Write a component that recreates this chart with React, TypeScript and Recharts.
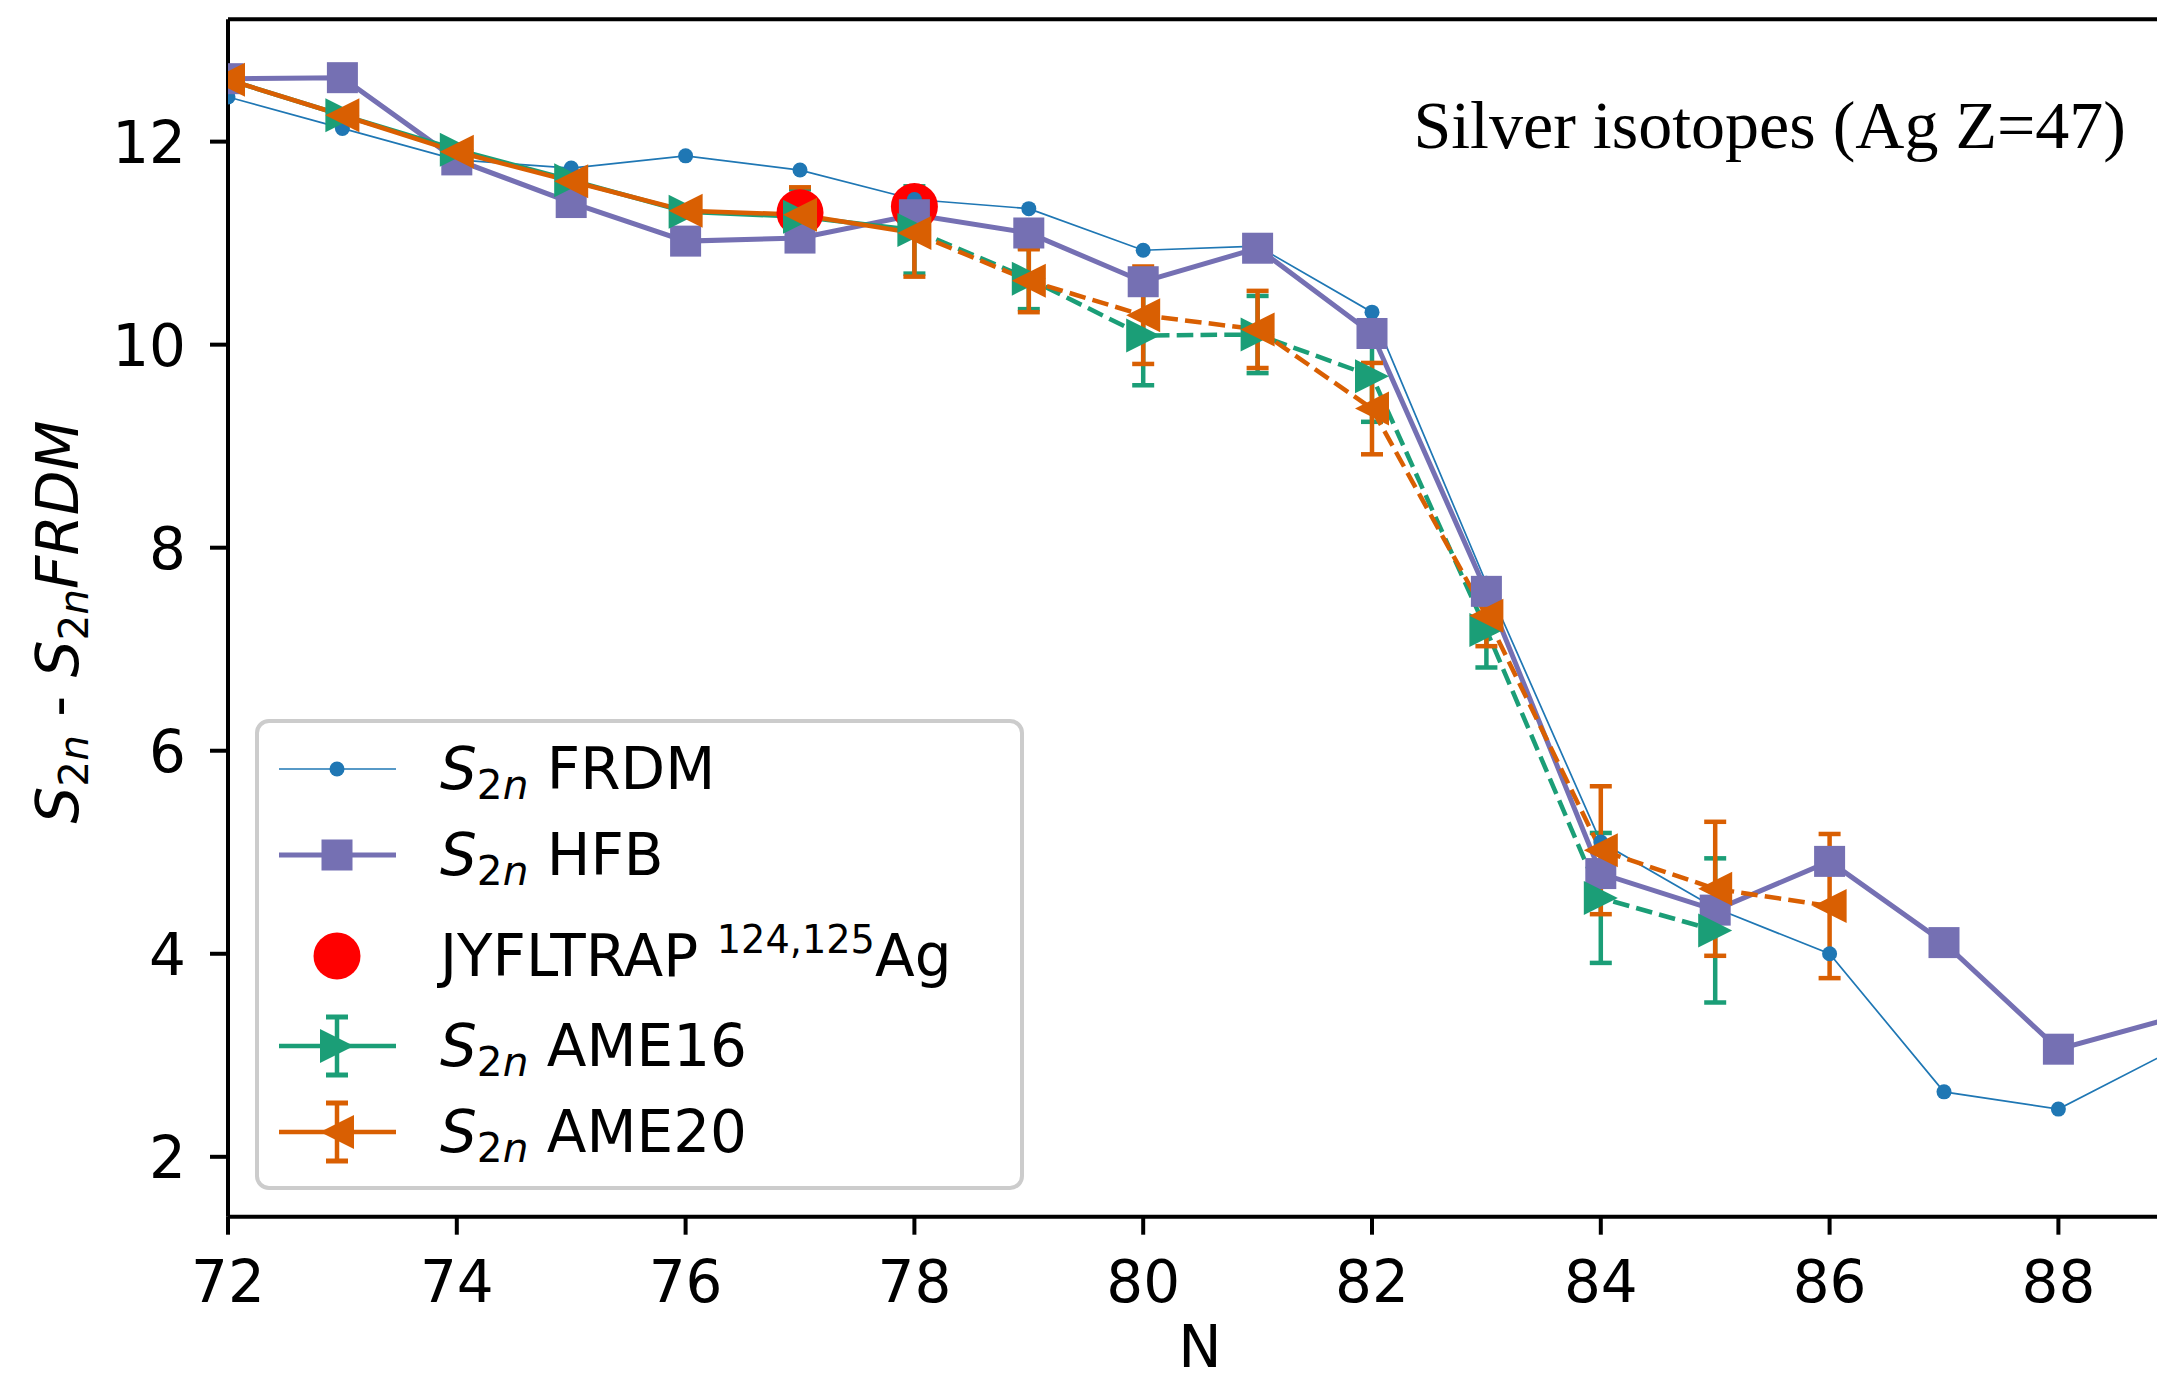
import React from 'react';
import { LineChart, Line, XAxis, YAxis, ErrorBar, ReferenceLine, Legend, Customized } from 'recharts';

// ---------------- data ----------------
const N = [72, 73, 74, 75, 76, 77, 78, 79, 80, 81, 82, 83, 84, 85, 86, 87, 88, 89];
const FRDM = [12.44, 12.13, 11.82, 11.74, 11.86, 11.72, 11.43, 11.34, 10.93, 10.97, 10.32, 7.65, 5.1, 4.45, 4.0, 2.64, 2.47, 3.05];
const HFB = [12.62, 12.63, 11.82, 11.4, 11.02, 11.05, 11.28, 11.1, 10.62, 10.95, 10.11, 7.57, 4.79, 4.43, 4.91, 4.11, 3.06, 3.37];

const JYFL_N = [77, 78];
const JYFL = [11.3, 11.36];

const AME16_N = [72, 73, 74, 75, 76, 77, 78, 79, 80, 81, 82, 83, 84, 85];
const AME16 = [12.61, 12.26, 11.92, 11.62, 11.31, 11.26, 11.13, 10.65, 10.09, 10.1, 9.69, 7.19, 4.55, 4.23];
const AME16_ERR = [null, null, null, null, null, 0.27, 0.43, 0.3, 0.49, 0.38, 0.45, 0.37, 0.64, 0.71];

const AME20_N = [72, 73, 74, 75, 76, 77, 78, 79, 80, 81, 82, 83, 84, 85, 86];
const AME20 = [12.61, 12.26, 11.9, 11.61, 11.32, 11.28, 11.1, 10.63, 10.29, 10.15, 9.37, 7.33, 5.02, 4.64, 4.47];
const AME20_ERR = [null, null, null, null, null, 0.27, 0.43, 0.31, 0.48, 0.38, 0.45, 0.3, 0.63, 0.66, 0.71];

const SPLIT_N = 78; // solid up to here, dashed afterwards
const X_TICKS = [72, 74, 76, 78, 80, 82, 84, 86, 88];
const Y_TICKS = [2, 4, 6, 8, 10, 12];
const X_DOMAIN: [number, number] = [72, 89];
const Y_DOMAIN: [number, number] = [1.41, 13.205];

const TITLE = 'Silver isotopes (Ag Z=47)';

// ---------------- styles ----------------
const C_FRDM = '#1f77b4';
const C_HFB = '#7570b3';
const C_JYFL = '#ff0000';
const C_A16 = '#1b9e77';
const C_A20 = '#d95f02';
const FONT = '"DejaVu Sans", sans-serif';
const FS = 58;
const DASH = '16.6 7.2';

// ---------------- table ----------------
const pick = (ns: number[], vs: (number | null)[], n: number) => {
  const i = ns.indexOf(n);
  return i >= 0 ? vs[i] : null;
};

const rows = N.map((n, i) => {
  const a16 = pick(AME16_N, AME16, n);
  const a16e = pick(AME16_N, AME16_ERR, n);
  const a20 = pick(AME20_N, AME20, n);
  const a20e = pick(AME20_N, AME20_ERR, n);
  return {
    n,
    frdm: FRDM[i],
    hfb: HFB[i],
    jyfl: pick(JYFL_N, JYFL, n),
    a16s: n <= SPLIT_N ? a16 : null,
    a16sErr: n <= SPLIT_N ? a16e : null,
    a16d: n >= SPLIT_N ? a16 : null,
    a16dErr: n > SPLIT_N ? a16e : null,
    a20s: n <= SPLIT_N ? a20 : null,
    a20sErr: n <= SPLIT_N ? a20e : null,
    a20d: n >= SPLIT_N ? a20 : null,
    a20dErr: n > SPLIT_N ? a20e : null,
  };
});

// ---------------- markers ----------------
const empty = (p: any) => <g key={`e${p.index}`} />;
const invalid = (p: any) => p.cx == null || p.cy == null || p.value == null || Number.isNaN(p.cy);

const circleDot = (color: string, r: number) => (p: any) =>
  invalid(p) ? empty(p) : <circle key={`c${p.index}`} cx={p.cx} cy={p.cy} r={r} fill={color} />;

const squareDot = (color: string, s: number) => (p: any) =>
  invalid(p) ? empty(p) : <rect key={`s${p.index}`} x={p.cx - s / 2} y={p.cy - s / 2} width={s} height={s} fill={color} />;

const triPoints = (cx: number, cy: number, h: number, dir: 1 | -1) =>
  `${cx + dir * h},${cy} ${cx - dir * h},${cy - h} ${cx - dir * h},${cy + h}`;

const triDot = (color: string, h: number, dir: 1 | -1, skipSplit: boolean) => (p: any) =>
  invalid(p) || (skipSplit && p.payload && p.payload.n === SPLIT_N)
    ? empty(p)
    : <polygon key={`t${p.index}`} points={triPoints(p.cx, p.cy, h, dir)} fill={color} />;

// ---------------- ticks ----------------
const XTick = (p: any) => (
  <text x={p.x} y={p.y + 67} textAnchor="middle" fontFamily={FONT} fontSize={FS} fill="#000">
    {p.payload.value}
  </text>
);
const YTick = (p: any) => (
  <text x={p.x - 24} y={p.y + 21} textAnchor="end" fontFamily={FONT} fontSize={FS} fill="#000">
    {p.payload.value}
  </text>
);

// ---------------- math-like text helpers ----------------
const S2n = (fs: number) => [
  <tspan key="S" fontStyle="italic">S</tspan>,
  <tspan key="2" fontSize={fs * 0.7} dy={fs * 0.18}>2</tspan>,
  <tspan key="n" fontSize={fs * 0.7} fontStyle="italic">n</tspan>,
];

// ---------------- legend ----------------
const LEG_W = 772;
const LEG_H = 474;
const LegendBox = () => {
  const hx0 = 24, hx1 = 141, mx = 82, tx = 185;
  const rowY = [50, 136, 237, 327, 413];
  const base = 20;
  return (
    <svg width={LEG_W} height={LEG_H} style={{ overflow: 'visible', display: 'block' }}>
      <rect x={2} y={2} width={765} height={467} rx={12} ry={12} fill="#ffffff" fillOpacity={0.8} stroke="#cccccc" strokeWidth={4} />
      {/* FRDM */}
      <line x1={hx0} x2={hx1} y1={rowY[0]} y2={rowY[0]} stroke={C_FRDM} strokeWidth={1.7} />
      <circle cx={mx} cy={rowY[0]} r={7.5} fill={C_FRDM} />
      <text x={tx} y={rowY[0] + base} fontFamily={FONT} fontSize={FS} fill="#000" style={{ whiteSpace: 'pre' }}>
        {S2n(FS)}
        <tspan dy={-FS * 0.18}>{' FRDM'}</tspan>
      </text>
      {/* HFB */}
      <line x1={hx0} x2={hx1} y1={rowY[1]} y2={rowY[1]} stroke={C_HFB} strokeWidth={5} />
      <rect x={mx - 15.5} y={rowY[1] - 15.5} width={31} height={31} fill={C_HFB} />
      <text x={tx} y={rowY[1] + base} fontFamily={FONT} fontSize={FS} fill="#000" style={{ whiteSpace: 'pre' }}>
        {S2n(FS)}
        <tspan dy={-FS * 0.18}>{' HFB'}</tspan>
      </text>
      {/* JYFLTRAP */}
      <circle cx={mx} cy={rowY[2]} r={23.5} fill={C_JYFL} />
      <text x={tx} y={rowY[2] + base} fontFamily={FONT} fontSize={FS} fill="#000" style={{ whiteSpace: 'pre' }}>
        <tspan>{'JYFLTRAP '}</tspan>
        <tspan fontSize={FS * 0.66} dy={-FS * 0.4}>{'124,125'}</tspan>
        <tspan dy={FS * 0.4}>Ag</tspan>
      </text>
      {/* AME16 */}
      <line x1={hx0} x2={hx1} y1={rowY[3]} y2={rowY[3]} stroke={C_A16} strokeWidth={4.5} />
      <line x1={mx} x2={mx} y1={rowY[3] - 29} y2={rowY[3] + 29} stroke={C_A16} strokeWidth={4.5} />
      <line x1={mx - 11} x2={mx + 11} y1={rowY[3] - 29} y2={rowY[3] - 29} stroke={C_A16} strokeWidth={5} />
      <line x1={mx - 11} x2={mx + 11} y1={rowY[3] + 29} y2={rowY[3] + 29} stroke={C_A16} strokeWidth={5} />
      <polygon points={triPoints(mx, rowY[3], 17, 1)} fill={C_A16} />
      <text x={tx} y={rowY[3] + base} fontFamily={FONT} fontSize={FS} fill="#000" style={{ whiteSpace: 'pre' }}>
        {S2n(FS)}
        <tspan dy={-FS * 0.18}>{' AME16'}</tspan>
      </text>
      {/* AME20 */}
      <line x1={hx0} x2={hx1} y1={rowY[4]} y2={rowY[4]} stroke={C_A20} strokeWidth={4.5} />
      <line x1={mx} x2={mx} y1={rowY[4] - 29} y2={rowY[4] + 29} stroke={C_A20} strokeWidth={4.5} />
      <line x1={mx - 11} x2={mx + 11} y1={rowY[4] - 29} y2={rowY[4] - 29} stroke={C_A20} strokeWidth={5} />
      <line x1={mx - 11} x2={mx + 11} y1={rowY[4] + 29} y2={rowY[4] + 29} stroke={C_A20} strokeWidth={5} />
      <polygon points={triPoints(mx, rowY[4], 17, -1)} fill={C_A20} />
      <text x={tx} y={rowY[4] + base} fontFamily={FONT} fontSize={FS} fill="#000" style={{ whiteSpace: 'pre' }}>
        {S2n(FS)}
        <tspan dy={-FS * 0.18}>{' AME20'}</tspan>
      </text>
    </svg>
  );
};

// ---------------- annotations ----------------
const Title = () => (
  <text x={2126} y={148} textAnchor="end" fontFamily='"Liberation Serif", serif' fontSize={68} fill="#000">
    {TITLE}
  </text>
);

const YLabel = () => (
  <text transform="translate(78, 622) rotate(-90)" textAnchor="middle" fontFamily={FONT} fontSize={FS} fill="#000" style={{ whiteSpace: 'pre' }}>
    {S2n(FS)}
    <tspan dy={-FS * 0.18}>{' - '}</tspan>
    <tspan fontStyle="italic">S</tspan>
    <tspan fontSize={FS * 0.7} dy={FS * 0.18}>2</tspan>
    <tspan fontSize={FS * 0.7} fontStyle="italic">n</tspan>
    <tspan dy={-FS * 0.18} fontStyle="italic">FRDM</tspan>
  </text>
);

const XLabel = () => (
  <text x={1200} y={1367} textAnchor="middle" fontFamily={FONT} fontSize={FS} fill="#000">N</text>
);

export default function App() {
  return (
    <div style={{ position: 'absolute', left: 0, top: 0, width: 2157, height: 1384, overflow: 'hidden', background: '#ffffff' }}>
      <LineChart width={2200} height={1384} data={rows} margin={{ top: 19.3, right: 27.2, bottom: 0, left: 108 }}>
        <XAxis
          dataKey="n"
          type="number"
          domain={X_DOMAIN}
          ticks={X_TICKS}
          interval={0}
          allowDataOverflow
          height={167.3}
          tickSize={18}
          tickMargin={0}
          axisLine={{ stroke: '#000', strokeWidth: 4 }}
          tickLine={{ stroke: '#000', strokeWidth: 4 }}
          tick={<XTick />}
        />
        <YAxis
          type="number"
          domain={Y_DOMAIN}
          ticks={Y_TICKS}
          interval={0}
          allowDataOverflow
          width={120}
          tickSize={18}
          tickMargin={0}
          axisLine={{ stroke: '#000', strokeWidth: 4 }}
          tickLine={{ stroke: '#000', strokeWidth: 4 }}
          tick={<YTick />}
        />
        <ReferenceLine y={Y_DOMAIN[1]} stroke="#000" strokeWidth={4} />

        <Line dataKey="jyfl" stroke="none" isAnimationActive={false} dot={circleDot(C_JYFL, 23.5)} activeDot={false} legendType="none" />
        <Line dataKey="frdm" stroke={C_FRDM} strokeWidth={1.7} isAnimationActive={false} dot={circleDot(C_FRDM, 7.5)} activeDot={false} />
        <Line dataKey="hfb" stroke={C_HFB} strokeWidth={5} isAnimationActive={false} dot={squareDot(C_HFB, 31)} activeDot={false} />

        <Line dataKey="a16s" stroke={C_A16} strokeWidth={4.5} isAnimationActive={false} dot={triDot(C_A16, 17, 1, false)} activeDot={false}>
          <ErrorBar dataKey="a16sErr" direction="y" width={11} stroke={C_A16} strokeWidth={4.5} />
        </Line>
        <Line dataKey="a16d" stroke={C_A16} strokeWidth={4.5} strokeDasharray={DASH} isAnimationActive={false} dot={triDot(C_A16, 17, 1, true)} activeDot={false}>
          <ErrorBar dataKey="a16dErr" direction="y" width={11} stroke={C_A16} strokeWidth={4.5} />
        </Line>
        <Line dataKey="a20s" stroke={C_A20} strokeWidth={4.5} isAnimationActive={false} dot={triDot(C_A20, 17, -1, false)} activeDot={false}>
          <ErrorBar dataKey="a20sErr" direction="y" width={11} stroke={C_A20} strokeWidth={4.5} />
        </Line>
        <Line dataKey="a20d" stroke={C_A20} strokeWidth={4.5} strokeDasharray={DASH} isAnimationActive={false} dot={triDot(C_A20, 17, -1, true)} activeDot={false}>
          <ErrorBar dataKey="a20dErr" direction="y" width={11} stroke={C_A20} strokeWidth={4.5} />
        </Line>

        <Customized component={Title} />
        <Customized component={YLabel} />
        <Customized component={XLabel} />
        <Legend
          layout="horizontal"
          align="center"
          verticalAlign="middle"
          content={<LegendBox />}
          wrapperStyle={{ position: 'absolute', left: 255, top: 719, width: LEG_W, height: LEG_H, margin: 0, padding: 0 }}
        />
      </LineChart>
    </div>
  );
}
